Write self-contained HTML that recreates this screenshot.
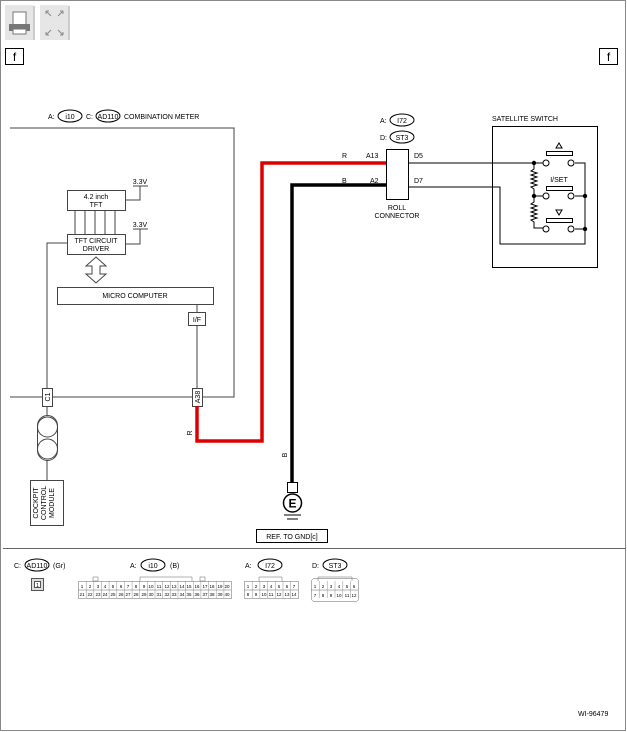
<!DOCTYPE html>
<html><head><meta charset="utf-8"><style>
html,body{margin:0;padding:0;background:#fff}
svg{display:block;font-family:"Liberation Sans",sans-serif}
</style></head><body>
<svg width="627" height="732" viewBox="0 0 627 732" xmlns="http://www.w3.org/2000/svg">
<rect x="0.5" y="0.5" width="625" height="730" fill="#fff" stroke="#888"/>
<!-- toolbar -->
<rect x="5" y="5" width="28" height="35" fill="#e6e6e6"/>
<line x1="34" y1="6" x2="34" y2="40" stroke="#999"/>
<rect x="13" y="12" width="13" height="14" fill="#fff" stroke="#777"/>
<rect x="9" y="24" width="21" height="7" fill="#777"/>
<rect x="13" y="29" width="13" height="5" fill="#fff" stroke="#777"/>
<rect x="40" y="5" width="28" height="35" fill="#e6e6e6"/>
<line x1="69" y1="6" x2="69" y2="40" stroke="#999"/>
<g stroke="#888" stroke-width="1" fill="none">
<path d="M46 11 L51 16 M46 11 h3 M46 11 v3"/><path d="M63 11 L58 16 M63 11 h-3 M63 11 v3"/>
<path d="M46 35 L51 30 M46 35 h3 M46 35 v-3"/><path d="M63 35 L58 30 M63 35 h-3 M63 35 v-3"/>
</g>
<rect x="5.5" y="48.5" width="18" height="16" fill="#fff" stroke="#000"/>
<text x="14.5" y="61" font-size="12" text-anchor="middle">f</text>
<rect x="599.5" y="48.5" width="18" height="16" fill="#fff" stroke="#000"/>
<text x="608.5" y="61" font-size="12" text-anchor="middle">f</text>

<g font-size="7" fill="#000">
<!-- combination meter -->
<text x="48" y="119">A:</text>
<ellipse cx="70" cy="116" rx="12" ry="6" fill="none" stroke="#000"/>
<text x="70" y="119" text-anchor="middle">i10</text>
<text x="86" y="119">C:</text>
<ellipse cx="108" cy="116" rx="12" ry="6" fill="none" stroke="#000"/>
<text x="108" y="119" text-anchor="middle">AD110</text>
<text x="124" y="119">COMBINATION METER</text>
</g>
<g stroke="#444" fill="none" stroke-width="1">
<polyline points="10,128 234,128 234,397 10,397"/>
<rect x="67.5" y="190.5" width="58" height="20" fill="#fff"/>
<rect x="67.5" y="234.5" width="58" height="20" fill="#fff"/>
<path d="M75 210v24M85 210v24M95 210v24M105 210v24M115 210v24"/>
<path d="M125 200h15v-14M133 186h15"/>
<path d="M125 244h15v-15M133 229h15"/>
<path d="M67 243h-20v154"/>
<rect x="57.5" y="287.5" width="156" height="17" fill="#fff"/>
<rect x="188.5" y="312.5" width="17" height="13" fill="#fff"/>
<path d="M197 304v8M197 325v65"/>
<path d="M47 406v9M47 460v20"/>
<rect x="37.5" y="415.5" width="20" height="45" rx="10" fill="#fff"/>
<circle cx="47.5" cy="427" r="10"/><circle cx="47.5" cy="449" r="10"/>
<rect x="30.5" y="480.5" width="33" height="45" fill="#fff"/>
</g>
<path d="M96 257 L106 266 H100 V274 H106 L96 283 L86 274 H92 V266 H86 Z" fill="#fff" stroke="#444"/>
<g font-size="7" fill="#000" text-anchor="middle">
<text x="96" y="199">4.2 inch</text><text x="96" y="207">TFT</text>
<text x="96" y="243">TFT CIRCUIT</text><text x="96" y="251">DRIVER</text>
<text x="140" y="184">3.3V</text><text x="140" y="227">3.3V</text>
<text x="135" y="298">MICRO COMPUTER</text>
<text x="197" y="322">I/F</text>
</g>
<rect x="42.5" y="388.5" width="10" height="18" fill="#fff" stroke="#444"/>
<text font-size="7" transform="translate(50,397) rotate(-90)" text-anchor="middle">C1</text>
<rect x="192.5" y="388.5" width="10" height="18" fill="#fff" stroke="#444"/>
<text font-size="7" transform="translate(200,397) rotate(-90)" text-anchor="middle">A38</text>
<g font-size="7" transform="translate(38,503) rotate(-90)" text-anchor="middle">
<text x="0" y="0">COCKPIT</text><text x="0" y="8">CONTROL</text><text x="0" y="16">MODULE</text>
</g>
<!-- wires -->
<polyline points="197,406 197,441 262,441 262,163 386,163" fill="none" stroke="#d00" stroke-width="3.5"/>
<polyline points="292,482 292,185 386,185" fill="none" stroke="#000" stroke-width="3.5"/>
<text font-size="7" transform="translate(192,433) rotate(-90)" text-anchor="middle">R</text>
<text font-size="7" transform="translate(287,455) rotate(-90)" text-anchor="middle">B</text>
<!-- ground -->
<rect x="287.5" y="482.5" width="10" height="10" fill="#fff" stroke="#000"/>
<circle cx="292.5" cy="503" r="9" fill="#fff" stroke="#000" stroke-width="1.5"/>
<text x="292.5" y="507.5" font-size="12" font-weight="bold" text-anchor="middle">E</text>
<path d="M284 515h17M287 519h11" stroke="#000"/>
<rect x="256.5" y="529.5" width="71" height="13" fill="#fff" stroke="#000"/>
<text x="292" y="539" font-size="7" text-anchor="middle">REF. TO GND[c]</text>
<!-- roll connector -->
<g font-size="7">
<text x="380" y="123">A:</text>
<ellipse cx="402" cy="120" rx="12" ry="6" fill="none" stroke="#000"/>
<text x="402" y="123" text-anchor="middle">I72</text>
<text x="380" y="140">D:</text>
<ellipse cx="402" cy="137" rx="12" ry="6" fill="none" stroke="#000"/>
<text x="402" y="140" text-anchor="middle">ST3</text>
<text x="342" y="158">R</text><text x="366" y="158">A13</text>
<text x="342" y="183">B</text><text x="370" y="183">A2</text>
<text x="414" y="158">D5</text><text x="414" y="183">D7</text>
<text x="397" y="210" text-anchor="middle">ROLL</text>
<text x="397" y="218" text-anchor="middle">CONNECTOR</text>
<text x="492" y="121">SATELLITE SWITCH</text>
<text x="559" y="182" text-anchor="middle">I/SET</text>
</g>
<rect x="386.5" y="149.5" width="22" height="50" fill="#fff" stroke="#000"/>
<g stroke="#000" fill="none">
<path d="M408 163h126M408 187h92v57h85v-81h-10"/>
<rect x="492.5" y="126.5" width="105" height="141"/>
<path d="M534 163v6l-3 2l6 2l-6 2l6 2l-6 2l6 2l-6 2l6 2l-6 2l3 2v7"/>
<path d="M534 196v6l-3 2l6 2l-6 2l6 2l-6 2l6 2l-6 2l6 2l-6 2l3 2v6h9"/>
<path d="M534 163h9M534 196h9M575 196h10"/>
<path d="M575 229h10"/>
<rect x="546.5" y="151.5" width="26" height="4" fill="#fff"/>
<rect x="546.5" y="186.5" width="26" height="4" fill="#fff"/>
<rect x="546.5" y="218.5" width="26" height="4" fill="#fff"/>
<path d="M559 143 l-3 5h6z"/>
<path d="M559 215 l-3 -5h6z"/>
</g>
<g fill="#fff" stroke="#000">
<circle cx="546" cy="163" r="3"/><circle cx="571" cy="163" r="3"/>
<circle cx="546" cy="196" r="3"/><circle cx="571" cy="196" r="3"/>
<circle cx="546" cy="229" r="3"/><circle cx="571" cy="229" r="3"/>
</g>
<g fill="#000"><circle cx="534" cy="163" r="2.2"/><circle cx="534" cy="196" r="2.2"/><circle cx="585" cy="196" r="2.2"/><circle cx="585" cy="229" r="2.2"/></g>
<!-- separator -->
<line x1="3" y1="548.5" x2="626" y2="548.5" stroke="#666"/>
<g font-size="7">
<text x="14" y="568">C:</text>
<ellipse cx="37" cy="565" rx="12" ry="6" fill="none" stroke="#000"/>
<text x="37" y="568" text-anchor="middle">AD110</text><text x="53" y="568">(Gr)</text>
<text x="130" y="568">A:</text>
<ellipse cx="153" cy="565" rx="12" ry="6" fill="none" stroke="#000"/>
<text x="153" y="568" text-anchor="middle">i10</text><text x="170" y="568">(B)</text>
<text x="245" y="568">A:</text>
<ellipse cx="270" cy="565" rx="12" ry="6" fill="none" stroke="#000"/>
<text x="270" y="568" text-anchor="middle">I72</text>
<text x="312" y="568">D:</text>
<ellipse cx="335" cy="565" rx="12" ry="6" fill="none" stroke="#000"/>
<text x="335" y="568" text-anchor="middle">ST3</text>
<text x="578" y="716">WI-96479</text>
</g>
<rect x="31.5" y="578.5" width="12" height="12" fill="#ddd" stroke="#555"/>
<rect x="34.5" y="581.5" width="6" height="6" fill="#fff" stroke="#555"/>
<text x="37.5" y="587" font-size="5" text-anchor="middle">1</text>
<g id="c" font-size="4.5" text-anchor="middle" stroke="#666" stroke-width="0.5">
<rect x="78.5" y="581.5" width="153" height="17" fill="#fff"/>
<path d="M78 590h153"/>
<rect x="93" y="577" width="5" height="4" fill="none"/><rect x="200" y="577" width="5" height="4" fill="none"/>
<path d="M140 581v-4h52v4" fill="none"/>
</g>
<g id="cells"></g>
<rect x="244.5" y="581.5" width="54" height="17" fill="#fff" stroke="#666" stroke-width="0.5"/>
<path d="M244 590h54M259 581v-4h23v4" stroke="#666" stroke-width="0.5" fill="none"/>
<rect x="311.5" y="578.5" width="47" height="23" rx="3" fill="#fff" stroke="#666" stroke-width="0.5"/>
<path d="M311 590h47M318 581v-4h34v4" stroke="#666" stroke-width="0.5" fill="none"/>
<g font-size="4.5" text-anchor="middle" fill="#000" stroke="#777" stroke-width="0.4">
<!-- i10 grid -->
<path d="M86.2 581v17M93.8 581v17M101.5 581v17M109.1 581v17M116.8 581v17M124.4 581v17M132.1 581v17M139.7 581v17M147.4 581v17M155 581v17M162.7 581v17M170.3 581v17M178 581v17M185.6 581v17M193.3 581v17M200.9 581v17M208.6 581v17M216.2 581v17M223.9 581v17" fill="none"/>
<path d="M252.2 581v17M259.9 581v17M267.6 581v17M275.3 581v17M283 581v17M290.7 581v17" fill="none"/>
<path d="M319.3 581v17M327.2 581v17M335 581v17M342.8 581v17M350.6 581v17" fill="none"/>
</g>
<g font-size="4.5" text-anchor="middle" fill="#000">
<text x="82" y="588">1</text><text x="90" y="588">2</text><text x="98" y="588">3</text><text x="105" y="588">4</text><text x="113" y="588">5</text><text x="121" y="588">6</text><text x="128" y="588">7</text><text x="136" y="588">8</text><text x="144" y="588">9</text><text x="151" y="588">10</text><text x="159" y="588">11</text><text x="167" y="588">12</text><text x="174" y="588">13</text><text x="182" y="588">14</text><text x="189" y="588">15</text><text x="197" y="588">16</text><text x="205" y="588">17</text><text x="212" y="588">18</text><text x="220" y="588">19</text><text x="227" y="588">20</text>
<text x="82" y="596">21</text><text x="90" y="596">22</text><text x="98" y="596">23</text><text x="105" y="596">24</text><text x="113" y="596">25</text><text x="121" y="596">26</text><text x="128" y="596">27</text><text x="136" y="596">28</text><text x="144" y="596">29</text><text x="151" y="596">30</text><text x="159" y="596">31</text><text x="167" y="596">32</text><text x="174" y="596">33</text><text x="182" y="596">34</text><text x="189" y="596">35</text><text x="197" y="596">36</text><text x="205" y="596">37</text><text x="212" y="596">38</text><text x="220" y="596">39</text><text x="227" y="596">40</text>
<text x="248" y="588">1</text><text x="256" y="588">2</text><text x="264" y="588">3</text><text x="271" y="588">4</text><text x="279" y="588">5</text><text x="287" y="588">6</text><text x="294" y="588">7</text>
<text x="248" y="596">8</text><text x="256" y="596">9</text><text x="264" y="596">10</text><text x="271" y="596">11</text><text x="279" y="596">12</text><text x="287" y="596">13</text><text x="294" y="596">14</text>
<text x="315" y="588">1</text><text x="323" y="588">2</text><text x="331" y="588">3</text><text x="339" y="588">4</text><text x="347" y="588">5</text><text x="354" y="588">6</text>
<text x="315" y="597">7</text><text x="323" y="597">8</text><text x="331" y="597">9</text><text x="339" y="597">10</text><text x="347" y="597">11</text><text x="354" y="597">12</text>
</g>
</svg>
</body></html>
